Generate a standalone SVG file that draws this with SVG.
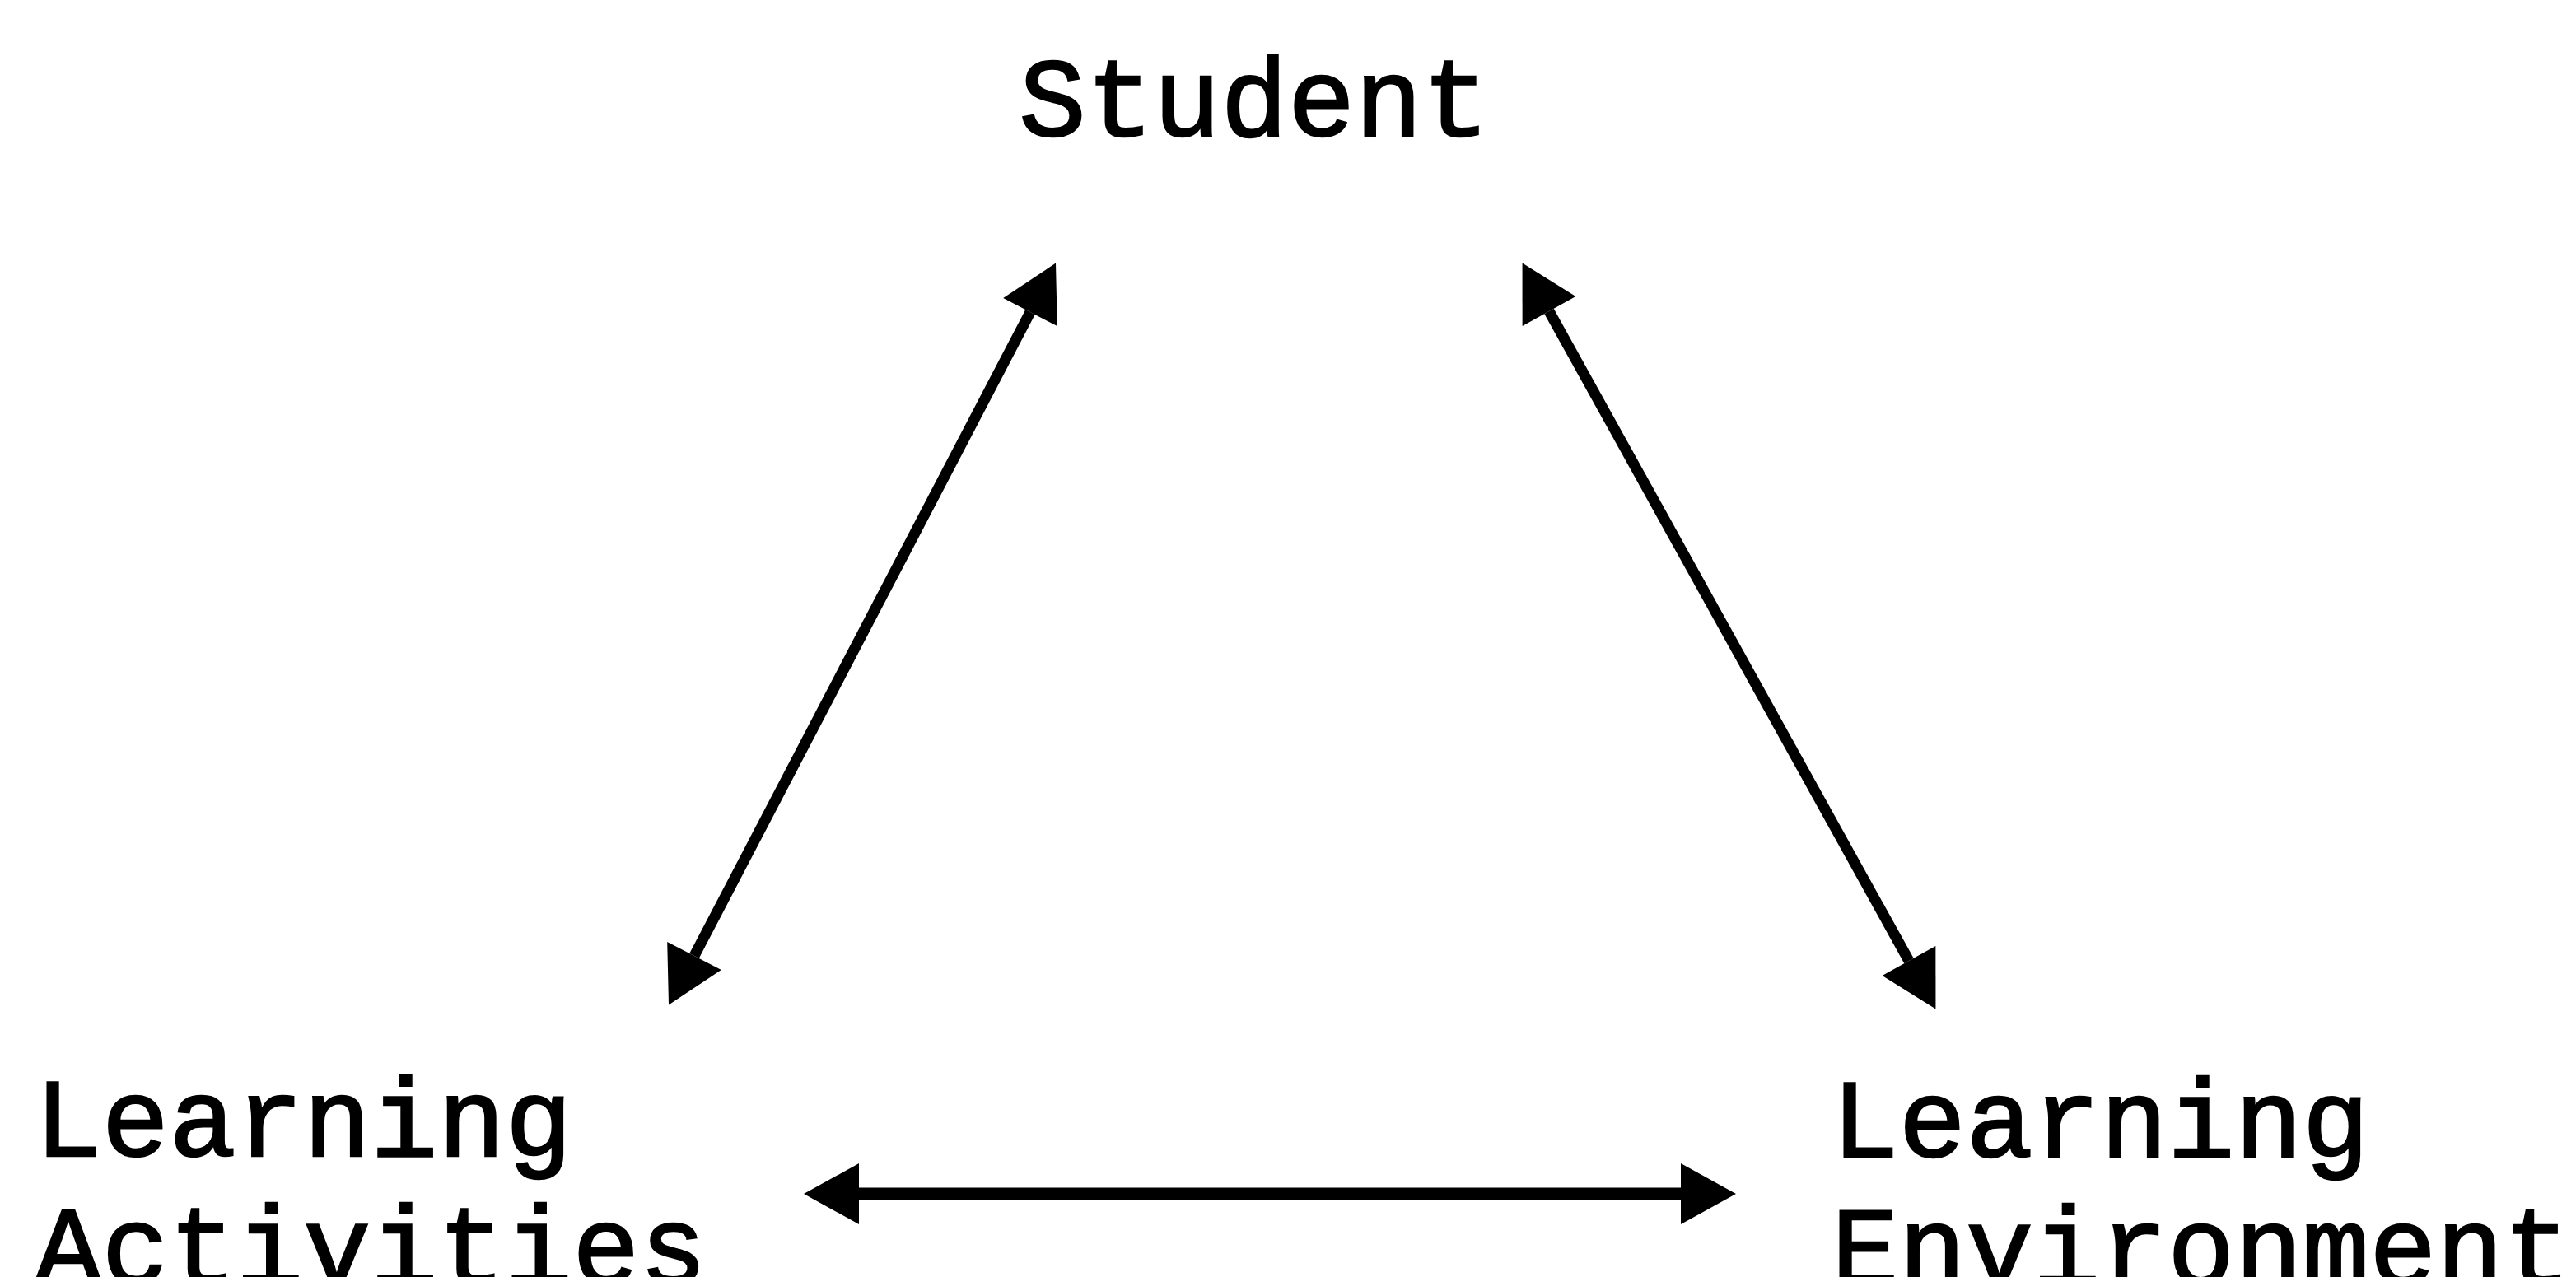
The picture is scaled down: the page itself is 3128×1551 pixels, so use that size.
<svg xmlns="http://www.w3.org/2000/svg" width="3128" height="1551" viewBox="0 0 3128 1551">
  <style>
    .lbl { font-family: "Liberation Mono", "DejaVu Sans Mono", monospace; font-size: 136px; fill: #000; stroke: #000; stroke-width: 2.5px; }
    .conn { stroke: #000; fill: none; }
  </style>
  <defs>
    <marker id="head" markerUnits="userSpaceOnUse" markerWidth="80" markerHeight="80" refX="0" refY="0" viewBox="-2 -40 80 80" orient="auto-start-reverse" overflow="visible">
      <path d="M0,-37 L67,0 L0,37 Z" fill="#000"/>
    </marker>
  </defs>
  <rect width="3128" height="1551" fill="#fff"/>
  <g id="student">
    <text class="lbl" x="1523" y="165" text-anchor="middle">Student</text>
  </g>
  <g id="learning-activities">
    <text class="lbl" x="42" y="1404">Learning</text>
    <text class="lbl" x="42" y="1559">Activities</text>
  </g>
  <g id="learning-environment">
    <text class="lbl" x="2224" y="1405">Learning</text>
    <text class="lbl" x="2224" y="1560">Environment</text>
  </g>
  <g id="connectors">
    <line class="conn" x1="843" y1="1161" x2="1251" y2="379" stroke-width="13" marker-start="url(#head)" marker-end="url(#head)"/>
    <line class="conn" x1="1881" y1="378" x2="2318" y2="1167" stroke-width="13" marker-start="url(#head)" marker-end="url(#head)"/>
    <line class="conn" x1="1043" y1="1450" x2="2041" y2="1450" stroke-width="15" marker-start="url(#head)" marker-end="url(#head)"/>
  </g>
</svg>
